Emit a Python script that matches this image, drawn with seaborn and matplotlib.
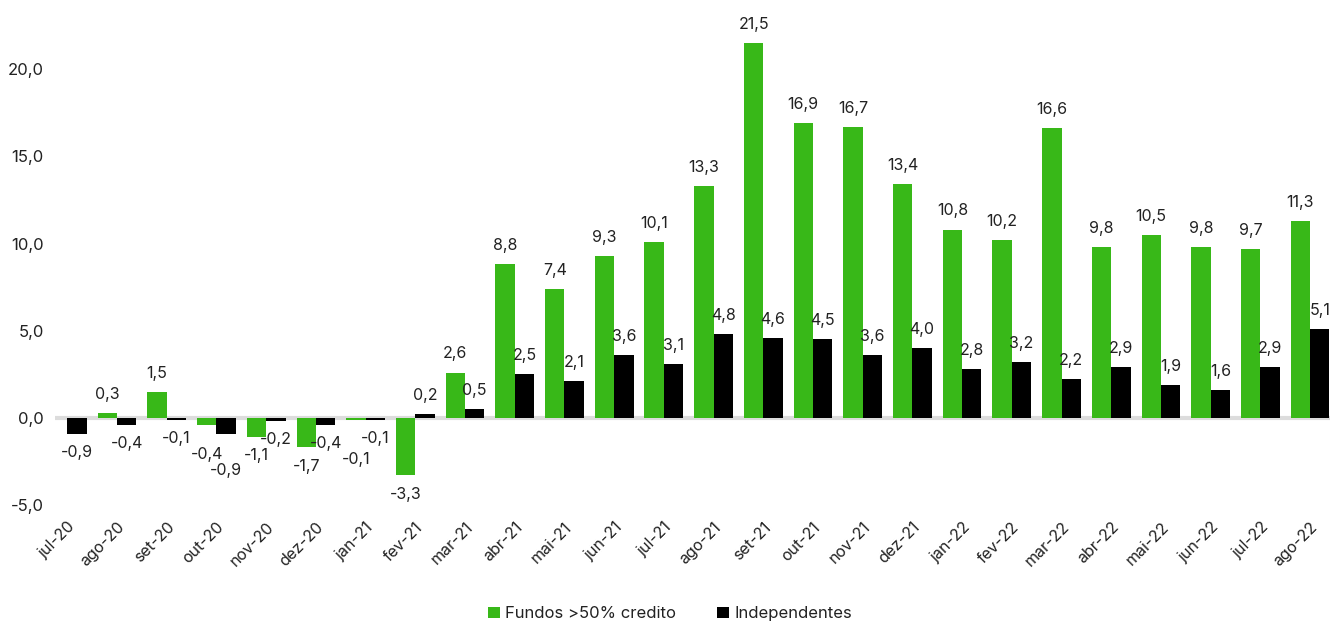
import numpy as np
import pandas as pd
import matplotlib.pyplot as plt
import seaborn as sns

months = ["jul-20", "ago-20", "set-20", "out-20", "nov-20", "dez-20", "jan-21", "fev-21",
          "mar-21", "abr-21", "mai-21", "jun-21", "jul-21", "ago-21", "set-21", "out-21",
          "nov-21", "dez-21", "jan-22", "fev-22", "mar-22", "abr-22", "mai-22", "jun-22",
          "jul-22", "ago-22"]
fundos = [np.nan, 0.3, 1.5, -0.4, -1.1, -1.7, -0.1, -3.3, 2.6, 8.8, 7.4, 9.3, 10.1, 13.3,
          21.5, 16.9, 16.7, 13.4, 10.8, 10.2, 16.6, 9.8, 10.5, 9.8, 9.7, 11.3]
independentes = [-0.9, -0.4, -0.1, -0.9, -0.2, -0.4, -0.1, 0.2, 0.5, 2.5, 2.1, 3.6, 3.1, 4.8,
                 4.6, 4.5, 3.6, 4.0, 2.8, 3.2, 2.2, 2.9, 1.9, 1.6, 2.9, 5.1]
series_names = ["Fundos >50% credito", "Independentes"]
yticks = [-5, 0, 5, 10, 15, 20]

df = pd.DataFrame({"mes": months, series_names[0]: fundos, series_names[1]: independentes})
long_df = df.melt(id_vars="mes", var_name="serie", value_name="valor")

sns.set_style("white")
plt.rcParams["font.family"] = ["Inter", "DejaVu Sans"]

fig = plt.figure(figsize=(13.4, 6.25), dpi=100)
ax = fig.add_axes([0.041, 0.178, 0.9515, 0.809])

sns.barplot(data=long_df, x="mes", y="valor", hue="serie", order=months,
            hue_order=series_names, palette=["#38b818", "#000000"],
            width=0.78, gap=0, saturation=1, linewidth=0, ax=ax, legend=True)

ax.axhline(0, color="#dcdcdc", lw=3, zorder=0)

# rotulos: acima das barras positivas, abaixo das negativas
anns = []
for cont in ax.containers:
    for bar in cont:
        if bar is None:
            continue
        v = bar.get_height()
        if np.isnan(v):
            continue
        xc = bar.get_x() + bar.get_width() / 2
        off = 8 if v >= 0 else -8
        a = ax.annotate(f"{v:.1f}".replace(".", ","), (xc, v), xytext=(0, off),
                        textcoords="offset points", ha="center",
                        va="bottom" if v >= 0 else "top", fontsize=11.5, color="#222222")
        anns.append((xc, v, a))

ax.set_xlim(-0.25, 25.4)
ax.set_ylim(-5.5, 23.5)
ax.set_yticks(yticks)
ax.set_yticklabels([f"{t:.1f}".replace(".", ",") for t in yticks], fontsize=12,
                   color="#222222")
ax.tick_params(axis="x", labelsize=11.5, rotation=45, length=0, pad=4, labelcolor="#222222")
ax.tick_params(axis="y", length=0, pad=8)
for lab in ax.get_xticklabels():
    lab.set_ha("right")
    lab.set_rotation_mode("anchor")
ax.set_xlabel("")
ax.set_ylabel("")
sns.despine(ax=ax, left=True, bottom=True)

handles, labels = ax.get_legend_handles_labels()
ax.get_legend().remove()
fig.legend(handles, labels, loc="lower center", bbox_to_anchor=(0.5, -0.018), ncol=2,
           frameon=False, fontsize=12, handlelength=0.7, handleheight=0.7,
           handletextpad=0.3, columnspacing=2.5, labelcolor="#222222")

# empurra para baixo os rotulos negativos que batem no vizinho
fig.canvas.draw()
renderer = fig.canvas.get_renderer()
anns.sort(key=lambda t: t[0])
placed = []
for xc, v, a in anns:
    if v < 0:
        for _ in range(10):
            bb = a.get_window_extent(renderer)
            hit = [p for p in placed[-3:] if bb.overlaps(p)]
            if not hit:
                break
            dy = bb.y1 - min(p.y0 for p in hit) + 1
            a.xyann = (0, a.xyann[1] - dy * 72 / fig.dpi)
    placed.append(a.get_window_extent(renderer))

fig.savefig("out.png", dpi=100)
